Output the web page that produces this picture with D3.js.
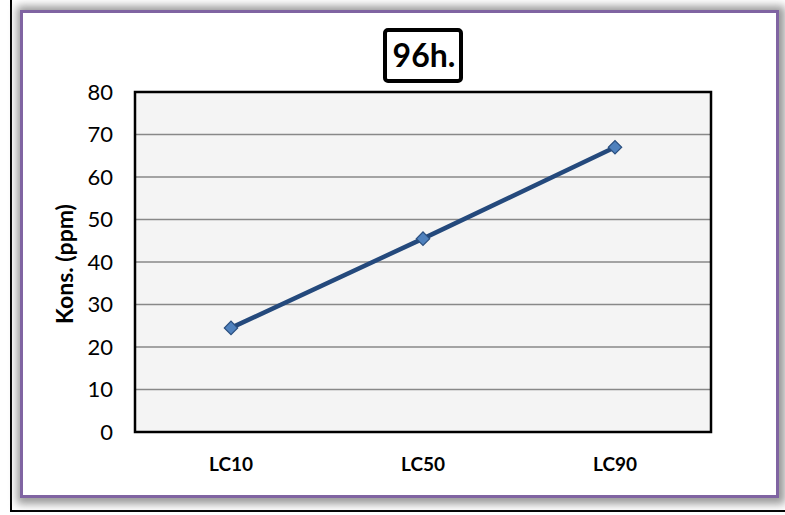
<!DOCTYPE html>
<html>
<head>
<meta charset="utf-8">
<script src="https://cdn.jsdelivr.net/npm/d3@7"></script>
<style>
  body { margin: 0; background: #fff; }
  text { font-family: Lato, "Open Sans", sans-serif; }
</style>
</head>
<body>
<div class="svg_container"></div>
<script>
const WIDTH = 785;
const HEIGHT = 515;

var categories = ["LC10", "LC50", "LC90"];
var values = [24.5, 45.5, 67];
var yTicks = [0, 10, 20, 30, 40, 50, 60, 70, 80];
var chartTitle = "96h.";
var yTitle = "Kons. (ppm)";

const PLOT = {left: 135, top: 92, right: 711, bottom: 432};

var translate = function (x, y) {
  return "translate(" + x + "," + y + ")";
};

var svg = d3.select('.svg_container').append('svg')
  .attr('width', WIDTH)
  .attr('height', HEIGHT);

var defs = svg.append('defs');
var blur = defs.append('filter').attr('id', 'shadow')
  .attr('x', '-5%').attr('y', '-5%').attr('width', '110%').attr('height', '110%');
blur.append('feGaussianBlur').attr('stdDeviation', 4);

// outer frame (left/bottom visible)
svg.append('line').attr('x1', 11).attr('y1', 0).attr('x2', 11).attr('y2', 511)
  .attr('stroke', '#000').attr('stroke-width', 2);
svg.append('line').attr('x1', 10).attr('y1', 511).attr('x2', WIDTH).attr('y2', 511)
  .attr('stroke', '#000').attr('stroke-width', 2);

// shadow + purple chart frame
svg.append('rect').attr('x', 17).attr('y', 6).attr('width', 768).attr('height', 498)
  .attr('fill', '#999').attr('filter', 'url(#shadow)');
svg.append('rect').attr('x', 21.5).attr('y', 11.5).attr('width', 756).attr('height', 485)
  .attr('fill', '#fff').attr('stroke', '#8064a2').attr('stroke-width', 3);

var x = d3.scaleBand().domain(categories).range([PLOT.left, PLOT.right]);
var y = d3.scaleLinear().domain([0, 80]).range([PLOT.bottom, PLOT.top]);

// plot area
svg.append('rect')
  .attr('x', PLOT.left).attr('y', PLOT.top)
  .attr('width', PLOT.right - PLOT.left).attr('height', PLOT.bottom - PLOT.top)
  .attr('fill', '#f4f4f4');

svg.append('g').selectAll('line').data(yTicks.slice(1, -1)).enter().append('line')
  .attr('x1', PLOT.left).attr('x2', PLOT.right)
  .attr('y1', d => y(d)).attr('y2', d => y(d))
  .attr('stroke', '#888').attr('stroke-width', 1.5);

svg.append('rect')
  .attr('x', PLOT.left).attr('y', PLOT.top)
  .attr('width', PLOT.right - PLOT.left).attr('height', PLOT.bottom - PLOT.top)
  .attr('fill', 'none').attr('stroke', '#000').attr('stroke-width', 2.5);

// y axis
var yAxis = d3.axisLeft(y).tickValues(yTicks).tickSize(0).tickPadding(22);
var gy = svg.append('g').attr('transform', translate(PLOT.left, 0)).call(yAxis);
gy.select('.domain').remove();
gy.selectAll('text').attr('font-size', 22).attr('fill', '#000')
  .style('font-family', 'Lato, sans-serif');

// x axis
var xAxis = d3.axisBottom(x).tickSize(0).tickPadding(26);
var gx = svg.append('g').attr('transform', translate(0, PLOT.bottom)).call(xAxis);
gx.select('.domain').remove();
gx.selectAll('text').attr('font-size', 19).attr('font-weight', 'bold').attr('fill', '#000')
  .style('font-family', 'Lato, sans-serif');

// y title
svg.append('text')
  .attr('transform', translate(73, 264) + ' rotate(-90)')
  .attr('text-anchor', 'middle')
  .attr('font-size', 23).attr('font-weight', 'bold')
  .text(yTitle);

// title box
svg.append('rect').attr('x', 385).attr('y', 30).attr('width', 76).attr('height', 51)
  .attr('rx', 3).attr('fill', '#fff').attr('stroke', '#000').attr('stroke-width', 4);
svg.append('text').attr('x', 424).attr('y', 67).attr('text-anchor', 'middle')
  .attr('font-size', 32).attr('font-weight', 'bold').text(chartTitle);

// line + markers
var line = d3.line()
  .x((d, i) => x(categories[i]) + x.bandwidth() / 2)
  .y(d => y(d));

svg.append('path').attr('d', line(values))
  .attr('fill', 'none').attr('stroke', '#24497c').attr('stroke-width', 4.5)
  .attr('stroke-linejoin', 'round');

var diamond = d3.symbol().type(d3.symbolSquare).size(90);
svg.append('g').selectAll('path').data(values).enter().append('path')
  .attr('d', diamond)
  .attr('transform', (d, i) => translate(x(categories[i]) + x.bandwidth() / 2, y(d)) + ' rotate(45)')
  .attr('fill', '#4f81bd').attr('stroke', '#2a4f7f').attr('stroke-width', 1.2);
</script>
</body>
</html>
